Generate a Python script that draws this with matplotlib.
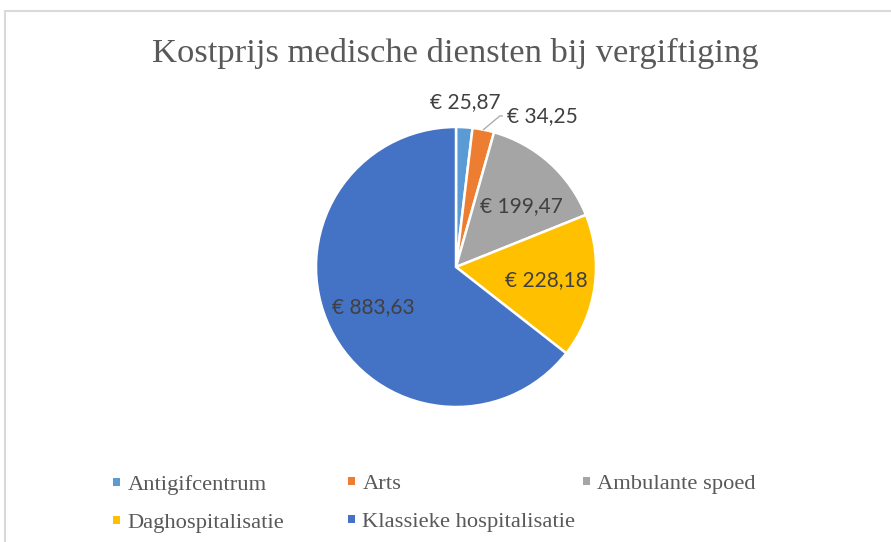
import matplotlib.pyplot as plt
import numpy as np
from matplotlib.patches import Rectangle

# ---------------------------------------------------------
# Data
# ---------------------------------------------------------
categories = [
    "Antigifcentrum",
    "Arts",
    "Ambulante spoed",
    "Daghospitalisatie",
    "Klassieke hospitalisatie",
]
costs = [25.87, 34.25, 199.47, 228.18, 883.63]
colors = ["#5B9BD5", "#ED7D31", "#A5A5A5", "#FFC000", "#4472C4"]

title = "Kostprijs medische diensten bij vergiftiging"

# label distance from centre (in radii) and angle nudge (deg) per slice
label_dist = [1.18, 1.24, 0.64, 0.65, 0.66]
label_nudge = [0, 0, -5, 0, 0]

W, H = 891, 542
fig = plt.figure(figsize=(W / 100, H / 100), dpi=100)

# thin chart border (top + left)
fig.add_artist(
    Rectangle(
        (4.5 / W, -0.1),
        1.2,
        1.1 - 10.5 / H,
        transform=fig.transFigure,
        facecolor="white",
        edgecolor="#D9D9D9",
        linewidth=1.5,
        zorder=0,
    )
)

# pie axes: centre (456, 267), radius 140 px
cx, cy, r = 456, 267, 140
ax = fig.add_axes([(cx - r) / W, (H - cy - r) / H, 2 * r / W, 2 * r / H])

wedges, _ = ax.pie(
    costs,
    colors=colors,
    startangle=90,
    counterclock=False,
    radius=1,
    wedgeprops=dict(edgecolor="white", linewidth=1.8),
)
ax.set_xlim(-1, 1)
ax.set_ylim(-1, 1)
ax.set_aspect("equal")
ax.axis("off")

label_font = dict(family=["Lato", "DejaVu Sans"], size=15, color="#404040")

for i, (w, val) in enumerate(zip(wedges, costs)):
    mid = np.deg2rad((w.theta1 + w.theta2) / 2)
    txt = "€ " + f"{val:.2f}".replace(".", ",")
    d = label_dist[i]
    a = mid + np.deg2rad(label_nudge[i])
    x, y = d * np.cos(a), d * np.sin(a)
    if i == 1:
        # label pushed to the right with a leader line
        ax.annotate(
            txt,
            xy=(np.cos(mid), np.sin(mid)),
            xytext=(0.614, 1.079),
            ha="center",
            va="center",
            annotation_clip=False,
            arrowprops=dict(
                arrowstyle="-",
                color="#A6A6A6",
                linewidth=0.9,
                shrinkA=1,
                shrinkB=0,
                connectionstyle="angle,angleA=0,angleB=40,rad=0",
            ),
            **label_font,
        )
    else:
        ax.text(x, y, txt, ha="center", va="center", **label_font)

fig.text(
    455 / W,
    1 - 53 / H,
    title,
    ha="center",
    va="center",
    family=["Liberation Serif", "DejaVu Serif"],
    fontsize=24.8,
    color="#595959",
)

# legend in three columns, row-major order like the original
legend_cols = [[0, 3], [1, 4], [2]]
legend_x = [113, 348, 583]
for xs, idx in zip(legend_x, legend_cols):
    leg = fig.legend(
        [wedges[k] for k in idx],
        [categories[k] for k in idx],
        loc="upper left",
        bbox_to_anchor=(xs / W, 1 - 475 / H),
        frameon=False,
        borderpad=0,
        borderaxespad=0,
        handlelength=0.32,
        handleheight=0.18,
        handletextpad=0.32,
        labelspacing=0.86,
        prop=dict(family=["Liberation Serif", "DejaVu Serif"], size=16.2),
    )
    for t in leg.get_texts():
        t.set_color("#595959")
    for h in leg.legend_handles:
        h.set_edgecolor("none")

fig.savefig("out.png", dpi=100, facecolor="white")
